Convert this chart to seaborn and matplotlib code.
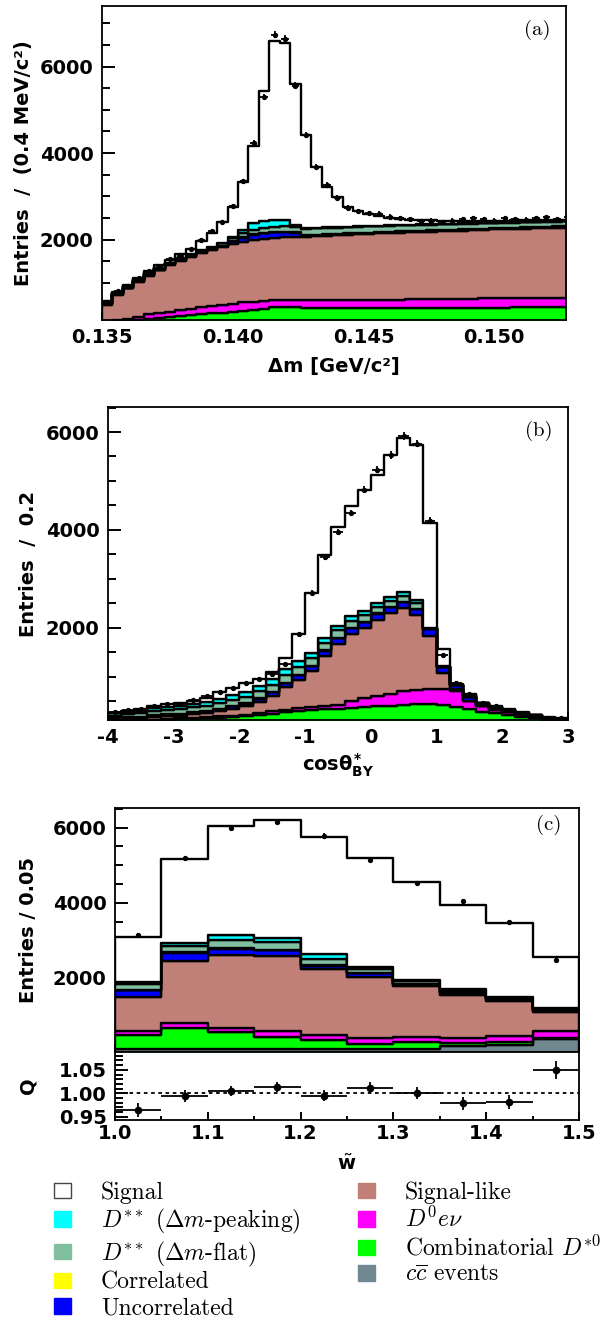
import numpy as np
import pandas as pd
import seaborn as sns
import matplotlib.pyplot as plt
from matplotlib.patches import Patch
from matplotlib.ticker import MultipleLocator, FormatStrFormatter

sns.set_style("ticks")
plt.rcParams["font.family"] = ["DejaVu Sans"]
plt.rcParams["font.weight"] = "bold"
plt.rcParams["axes.labelweight"] = "bold"
plt.rcParams["axes.unicode_minus"] = False
plt.rcParams["text.color"] = "black"
plt.rcParams["axes.labelcolor"] = "black"
plt.rcParams["xtick.color"] = "black"
plt.rcParams["ytick.color"] = "black"
plt.rcParams["mathtext.fontset"] = "custom"
plt.rcParams["mathtext.rm"] = "DejaVu Sans:bold"
plt.rcParams["mathtext.it"] = "DejaVu Sans:bold"
plt.rcParams["mathtext.bf"] = "DejaVu Sans:bold"

# stack order: first entry is drawn on top
components = ["Signal", "Dss_peak", "Dss_flat", "Correlated", "Uncorrelated",
              "Signal-like", "D0enu", "Combinatorial", "ccbar"]
colors = ["#ffffff", "#00ffff", "#80c0a0", "#ffff00", "#0000ff",
          "#c08078", "#ff00ff", "#00ff00", "#728890"]
legend_labels = ["Signal", r"$D^{**}$ ($\Delta m$-peaking)", r"$D^{**}$ ($\Delta m$-flat)",
                 "Correlated", "Uncorrelated", "Signal-like", r"$D^0 e\nu$",
                 r"Combinatorial $D^{*0}$", r"$c\overline{c}$ events"]

# ---- panel (a): delta m, 0.4 MeV bins from 0.135 ----
signal_a = [10, 20, 25, 35, 50, 60, 75, 90, 115, 200, 330, 480, 700, 1110, 1775, 3015, 4140, 4100,
            3270, 2150, 1400, 930, 690, 450, 350, 280, 230, 180, 150, 120, 100, 90, 80, 70, 60, 55,
            50, 45, 40, 40, 35, 35, 35, 30, 30]
dss_peak_a = [5, 5, 5, 5, 5, 5, 5, 5, 5, 5, 5, 5, 15, 75, 155, 155, 165, 140, 45, 20, 10, 10, 10,
              10, 10, 10, 10, 10, 10, 10, 10, 10, 10, 10, 10, 10, 10, 10, 10, 10, 10, 10, 10, 10, 10]
dss_flat_a = [55, 35, 35, 35, 40, 30, 30, 35, 40, 40, 40, 60, 60, 90, 110, 120, 120, 120, 120, 130,
              150, 150, 148, 146, 144, 142, 140, 138, 136, 134, 132, 130, 128, 126, 124, 122, 120,
              118, 116, 115, 114, 113, 112, 112, 112]
correlated_a = [3, 3, 3, 3, 3, 3, 3, 3, 3, 3, 3, 3, 5, 5, 5, 5, 5, 5, 5, 5, 5, 5, 5, 5, 5, 5, 5, 5,
                5, 5, 5, 5, 5, 5, 5, 5, 5, 5, 5, 5, 5, 5, 5, 5, 5]
uncorrelated_a = [15, 15, 15, 15, 15, 15, 15, 15, 15, 15, 15, 15, 60, 100, 130, 140, 140, 130, 100,
                  40, 25, 25, 25, 25, 25, 25, 25, 25, 25, 25, 25, 25, 25, 25, 25, 25, 25, 25, 25,
                  25, 25, 25, 25, 25, 25]
signal_like_a = [385, 586, 700, 813, 884, 992, 1078, 1138, 1200, 1262, 1309, 1341, 1388, 1401, 1425,
                 1430, 1430, 1445, 1455, 1465, 1480, 1495, 1505, 1515, 1520, 1530, 1535, 1545, 1550,
                 1553, 1556, 1564, 1562, 1570, 1578, 1581, 1584, 1592, 1595, 1598, 1605, 1612, 1613,
                 1618, 1622]
d0enu_a = [30, 40, 60, 80, 100, 110, 120, 140, 150, 160, 170, 180, 190, 190, 180, 175, 170, 170, 175,
           180, 180, 180, 185, 185, 190, 190, 195, 195, 200, 200, 205, 205, 210, 210, 210, 215, 215,
           215, 220, 220, 220, 220, 225, 225, 225]
combinatorial_a = [60, 80, 100, 120, 160, 180, 200, 220, 240, 260, 280, 300, 320, 345, 370, 395, 420,
                   425, 420, 415, 410, 405, 400, 400, 400, 400, 400, 400, 400, 405, 405, 405, 410,
                   410, 410, 410, 415, 415, 415, 420, 420, 420, 420, 420, 420]
ccbar_a = [10, 10, 10, 10, 10, 10, 10, 10, 10, 10, 10, 10, 10, 10, 10, 10, 10, 10, 10, 10, 10, 10,
           10, 10, 10, 10, 10, 10, 10, 10, 10, 10, 10, 10, 10, 10, 10, 10, 10, 10, 10, 10, 10, 10, 10]
data_a = [560, 800, 930, 1110, 1280, 1370, 1540, 1620, 1780, 2000, 2200, 2410, 2770, 3350, 4230, 5290,
          6740, 6640, 5560, 4410, 3680, 3270, 2970, 2740, 2650, 2615, 2600, 2530, 2490, 2470, 2430,
          2440, 2410, 2440, 2480, 2500, 2470, 2440, 2490, 2480, 2460, 2500, 2510, 2480, 2520]

# ---- panel (b): cos theta_BY, bins of 0.2 from -4 to 3 ----
signal_b = [15, 20, 30, 45, 70, 60, 65, 70, 140, 135, 170, 135, 140, 225, 555, 1235, 1690, 2015, 2260,
            2470, 2625, 2895, 3150, 3175, 2140, 350, 10, 20, 5, 10, 10, 5, 5, 5, 10]
dss_peak_b = [45, 50, 55, 60, 65, 65, 75, 80, 90, 100, 105, 110, 110, 120, 110, 100, 100, 95, 90, 85,
              80, 75, 70, 60, 5, 5, 5, 5, 5, 5, 5, 5, 5, 5, 5]
dss_flat_b = [60, 65, 70, 80, 85, 90, 100, 105, 115, 125, 135, 145, 150, 165, 165, 160, 160, 150, 150,
              140, 130, 130, 120, 110, 20, 10, 5, 20, 15, 10, 10, 8, 5, 5, 5]
correlated_b = [5, 5, 5, 5, 5, 5, 5, 5, 5, 5, 5, 5, 5, 5, 5, 5, 5, 5, 5, 5, 5, 5, 5, 5, 5, 5, 5, 5, 5,
                5, 5, 5, 5, 5, 5]
uncorrelated_b = [20, 20, 25, 25, 30, 30, 35, 40, 45, 50, 55, 60, 70, 80, 90, 100, 110, 120, 120, 125,
                  125, 125, 125, 120, 130, 120, 80, 80, 45, 35, 30, 25, 20, 15, 10]
signal_like_b = [30, 45, 40, 63, 60, 60, 75, 85, 110, 140, 170, 235, 320, 460, 580, 730, 1010, 1240,
                 1370, 1430, 1550, 1640, 1700, 1530, 1090, 325, 40, 10, 5, 5, 5, 0, 0, 0, 0]
d0enu_b = [10, 10, 12, 15, 18, 20, 22, 25, 28, 30, 35, 40, 45, 50, 60, 70, 80, 85, 130, 180, 215, 240,
           275, 300, 305, 325, 315, 160, 105, 75, 55, 40, 30, 20, 15]
combinatorial_b = [80, 90, 95, 105, 115, 125, 135, 145, 160, 175, 190, 215, 245, 270, 300, 315, 330,
                   345, 365, 380, 395, 410, 425, 435, 440, 420, 385, 335, 285, 250, 215, 180, 150,
                   115, 100]
ccbar_b = [5, 5, 5, 5, 5, 5, 5, 5, 5, 5, 5, 5, 5, 5, 5, 5, 5, 5, 5, 5, 5, 5, 5, 5, 5, 5, 5, 5, 5, 5,
           5, 5, 5, 5, 5]
data_b = [285, 320, 345, 400, 450, 455, 520, 600, 700, 780, 880, 960, 1060, 1260, 1880, 2720, 3450,
          3960, 4350, 4820, 5230, 5530, 5920, 5760, 4190, 1440, 880, 640, 470, 400, 330, 270, 210,
          170, 150]

# ---- panel (c): w tilde, bins of 0.05 from 1.0 to 1.5 ----
signal_c = [1197, 2230, 2893, 3134, 3133, 2905, 2594, 2257, 1970, 1343]
dss_peak_c = [62, 80, 125, 88, 125, 61, 30, 20, 20, 30]
dss_flat_c = [143, 179, 223, 224, 161, 90, 80, 60, 30, 40]
correlated_c = [10, 10, 10, 10, 10, 10, 10, 10, 10, 10]
uncorrelated_c = [197, 224, 170, 152, 89, 116, 60, 50, 30, 40]
signal_like_c = [895, 1655, 1934, 1996, 1746, 1611, 1342, 1146, 948, 501]
d0enu_c = [107, 117, 125, 152, 152, 152, 134, 137, 152, 186]
combinatorial_c = [379, 575, 450, 334, 244, 145, 180, 82, 90, 10]
ccbar_c = [100, 100, 100, 100, 100, 110, 120, 190, 210, 390]
data_c = [3130, 5180, 5980, 6140, 5780, 5150, 4520, 4040, 3480, 2470]
ratio_c = [0.965, 0.995, 1.005, 1.013, 0.995, 1.012, 1.000, 0.979, 0.982, 1.050]
ratio_err_c = [0.015, 0.013, 0.011, 0.011, 0.012, 0.012, 0.013, 0.014, 0.015, 0.019]


def draw_stack(ax, edges, layers, data, xerr):
    centers = (edges[:-1] + edges[1:]) / 2
    rows = []
    for name, vals in zip(components, layers):
        for c, w in zip(centers, vals):
            rows.append((c, w, name))
    df = pd.DataFrame(rows, columns=["x", "w", "comp"])
    sns.histplot(df, x="x", weights="w", hue="comp", hue_order=components,
                 palette=dict(zip(components, colors)), multiple="stack", bins=edges.tolist(),
                 element="step", fill=True, alpha=1, edgecolor="black", linewidth=1.7,
                 legend=False, ax=ax)
    ax.errorbar(centers, data, yerr=np.sqrt(data), xerr=xerr, fmt="o", ms=2.8,
                color="black", elinewidth=1.3, capsize=0, zorder=5)


def style(ax, xmaj, xmin, ymaj, ymin):
    ax.xaxis.set_major_locator(MultipleLocator(xmaj))
    ax.xaxis.set_minor_locator(MultipleLocator(xmin))
    ax.yaxis.set_major_locator(MultipleLocator(ymaj))
    ax.yaxis.set_minor_locator(MultipleLocator(ymin))
    ax.tick_params(which="both", direction="in", top=False, right=False, width=1.4,
                   labelsize=14, pad=6, color="black", labelcolor="black")
    ax.tick_params(axis="y", which="major", length=9)
    ax.tick_params(axis="y", which="minor", length=5.5)
    ax.tick_params(axis="x", which="major", length=6)
    ax.tick_params(axis="x", which="minor", length=3)
    for s in ax.spines.values():
        s.set_visible(True)
        s.set_linewidth(1.3)
        s.set_color("black")


fig = plt.figure(figsize=(6.03, 13.25), dpi=100)

# (a)
ax_a = fig.add_axes([0.1692, 0.7585, 0.7695, 0.2370])
edges_a = np.linspace(0.135, 0.153, 46)
draw_stack(ax_a, edges_a,
           [signal_a, dss_peak_a, dss_flat_a, correlated_a, uncorrelated_a, signal_like_a,
            d0enu_a, combinatorial_a, ccbar_a], data_a, 0.00014)
ax_a.set_xlim(0.135, 0.15275)
ax_a.set_ylim(140, 7400)
style(ax_a, 0.005, 0.0025, 2000, 500)
ax_a.xaxis.set_major_formatter(FormatStrFormatter("%.3f"))
ax_a.set_ylabel("Entries  /  (0.4 MeV/c²)", fontsize=14)
ax_a.set_xlabel("Δm [GeV/c²]", fontsize=14)
ax_a.yaxis.set_label_coords(-0.149, 0.5)
ax_a.xaxis.set_label_coords(0.5, -0.118)
ax_a.text(0.966, 0.924, "(a)", transform=ax_a.transAxes, ha="right", va="center",
          fontsize=15, fontfamily="cmr10", fontweight="normal")

# (b)
ax_b = fig.add_axes([0.1791, 0.4566, 0.7629, 0.2362])
edges_b = np.linspace(-4, 3, 36)
draw_stack(ax_b, edges_b,
           [signal_b, dss_peak_b, dss_flat_b, correlated_b, uncorrelated_b, signal_like_b,
            d0enu_b, combinatorial_b, ccbar_b], data_b, 0.08)
ax_b.set_xlim(-4, 3)
ax_b.set_ylim(119, 6510)
style(ax_b, 1, 0.5, 2000, 500)
ax_b.set_ylabel("Entries  /  0.2", fontsize=14)
ax_b.set_xlabel(r"cos$\theta^{*}_{BY}$", fontsize=14)
ax_b.yaxis.set_label_coords(-0.152, 0.5)
ax_b.xaxis.set_label_coords(0.5, -0.1)
ax_b.text(0.967, 0.923, "(b)", transform=ax_b.transAxes, ha="right", va="center",
          fontsize=15, fontfamily="cmr10", fontweight="normal")

# (c) main
ax_c = fig.add_axes([0.1907, 0.2060, 0.7695, 0.1842])
edges_c = np.linspace(1.0, 1.5, 11)
draw_stack(ax_c, edges_c,
           [signal_c, dss_peak_c, dss_flat_c, correlated_c, uncorrelated_c, signal_like_c,
            d0enu_c, combinatorial_c, ccbar_c], data_c, None)
ax_c.set_xlim(1.0, 1.5)
ax_c.set_ylim(30, 6520)
style(ax_c, 0.1, 0.05, 2000, 500)
ax_c.tick_params(axis="x", labelbottom=False)
ax_c.set_xlabel("")
ax_c.set_ylabel("Entries / 0.05", fontsize=14)
ax_c.yaxis.set_label_coords(-0.166, 0.5)
ax_c.text(0.963, 0.93, "(c)", transform=ax_c.transAxes, ha="right", va="center",
          fontsize=15, fontfamily="cmr10", fontweight="normal")

# (c) ratio
ax_q = fig.add_axes([0.1907, 0.1547, 0.7695, 0.0513])
centers_c = (edges_c[:-1] + edges_c[1:]) / 2
ax_q.axhline(1.0, color="black", ls=(0, (2, 2)), lw=1.3)
ax_q.errorbar(centers_c, ratio_c, yerr=ratio_err_c, xerr=0.025, fmt="o", ms=4.5,
              color="black", elinewidth=1.3, capsize=0)
ax_q.set_xlim(1.0, 1.5)
ax_q.set_ylim(0.943, 1.088)
style(ax_q, 0.1, 0.05, 0.05, 0.01)
ax_q.xaxis.set_major_formatter(FormatStrFormatter("%.1f"))
ax_q.yaxis.set_major_formatter(FormatStrFormatter("%.2f"))
ax_q.tick_params(axis="x", pad=3)
ax_q.set_ylabel("Q", fontsize=14)
ax_q.set_xlabel(r"$\tilde{w}$", fontsize=14)
ax_q.yaxis.set_label_coords(-0.166, 0.5)
ax_q.xaxis.set_label_coords(0.5, -0.5)

# legend in two columns
handles = []
for c in colors:
    edge = "#444444" if c == "#ffffff" else c
    handles.append(Patch(facecolor=c, edgecolor=edge, linewidth=1.0))
leg_kw = dict(loc="upper left", frameon=False, borderpad=0, borderaxespad=0,
              handlelength=0.72, handleheight=0.64, handletextpad=1.27, labelspacing=0.14,
              prop={"family": "cmr10", "size": 17, "weight": "normal"})
leg1 = fig.legend(handles=handles[:5], labels=legend_labels[:5],
                  bbox_to_anchor=(0.0896, 0.1085), **leg_kw)
leg2 = fig.legend(handles=handles[5:], labels=legend_labels[5:],
                  bbox_to_anchor=(0.5937, 0.1085), **leg_kw)
for leg in (leg1, leg2):
    for t in leg.get_texts():
        t.set_math_fontfamily("cm")

fig.savefig("out.png", dpi=100)
